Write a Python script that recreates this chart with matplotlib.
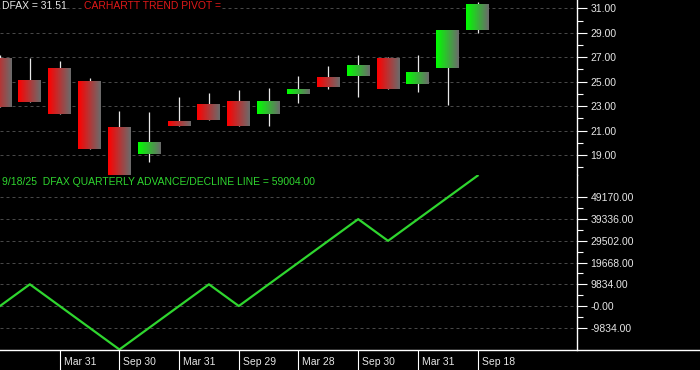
import matplotlib.pyplot as plt
import numpy as np
from matplotlib.lines import Line2D

# Candles trimestrais (abertura, máxima, mínima, fechamento)
abertura = [26.93, 25.13, 26.12, 25.05, 21.21, 19.11, 21.78, 23.11, 23.34,
            22.35, 23.99, 25.30, 25.46, 26.93, 24.81, 26.14, 29.22]
maxima = [27.18, 26.93, 26.69, 25.30, 22.62, 22.52, 23.74, 24.07, 24.31,
          24.48, 25.46, 26.28, 27.18, 27.02, 27.18, 29.20, 31.54]
minima = [22.95, 23.34, 22.38, 19.49, 17.20, 18.45, 21.40, 21.86, 21.37,
          21.37, 23.25, 24.40, 23.74, 24.40, 24.15, 23.09, 28.96]
fechamento = [22.95, 23.34, 22.38, 19.49, 17.20, 20.06, 21.40, 21.86, 21.37,
              23.34, 24.32, 24.56, 26.28, 24.40, 25.79, 29.20, 31.27]
dfax_atual = 31.51

# Linha de avanço/declínio
linha_ad = [0, 9834, 0, -9834, -19668, -9834, 0, 9834, 0, 9834, 19668,
            29502, 39336, 29502, 39336, 49170, 59004]

datas_idx = [2, 4, 6, 8, 10, 12, 14, 16]
datas = ["Mar 31", "Sep 30", "Mar 31", "Sep 29", "Mar 28", "Sep 30", "Mar 31", "Sep 18"]

precos_ticks = [19, 21, 23, 25, 27, 29, 31]
precos_labels = ["19.00", "21.00", "23.00", "25.00", "27.00", "29.00", "31.00"]
ad_ticks = [-9834, 0, 9834, 19668, 29502, 39336, 49170]
ad_labels = ["-9834.00", "-0.00", "9834.00", "19668.00", "29502.00", "39336.00", "49170.00"]

plt.rcParams["font.family"] = ["Liberation Sans", "DejaVu Sans"]

GRADE = "#565656"
TRACO = (0, (3.6, 3.6))
FONTE = 7.5


def estilo_eixo(ax):
    ax.set_facecolor("black")
    for lado in ["top", "left", "bottom"]:
        ax.spines[lado].set_visible(False)
    ax.spines["right"].set_color("white")
    ax.spines["right"].set_linewidth(1.0)
    ax.yaxis.tick_right()
    ax.tick_params(axis="y", which="major", colors="white", labelcolor="#e6e6e6",
                   length=7.2, width=0.8, pad=2.5, labelsize=FONTE)
    ax.tick_params(axis="y", which="minor", colors="white", length=4.3, width=0.8)
    ax.grid(axis="y", which="major", color=GRADE, linestyle=TRACO, linewidth=0.6)
    ax.set_axisbelow(True)


def gradiente(cor, n=40):
    cinza = np.array([0.42, 0.42, 0.42])
    cor = np.array(cor)
    t = np.linspace(0, 1, n)[:, None]
    return (cor * (1 - t) + cinza * t)[None, :, :]


fig = plt.figure(figsize=(7, 3.7), dpi=100, facecolor="black")
ax1 = fig.add_axes([0, 195 / 370, 577 / 700, 175 / 370])
ax2 = fig.add_axes([0, 20 / 370, 577 / 700, 175 / 370])
estilo_eixo(ax1)
estilo_eixo(ax2)

# Candles com gradiente
largura = 0.77
for i in range(len(abertura)):
    ax1.vlines(i, minima[i], maxima[i], color="#e8e8e8", linewidth=0.9, zorder=2)
    alta = fechamento[i] >= abertura[i]
    cor = (0.0, 1.0, 0.0) if alta else (1.0, 0.0, 0.0)
    base, topo = sorted([abertura[i], fechamento[i]])
    ax1.imshow(gradiente(cor), extent=(i - largura / 2, i + largura / 2, base, topo),
               aspect="auto", interpolation="bilinear", zorder=3)

ax1.set_xlim(0, 19.33)
ax1.set_ylim(17.36, 31.68)
ax1.set_yticks(precos_ticks, labels=precos_labels)
ax1.set_yticks(np.arange(18, 31, 2), minor=True)
ax1.set_xticks([])
ax1.spines["bottom"].set_visible(True)
ax1.spines["bottom"].set_color(GRADE)
ax1.spines["bottom"].set_linestyle(TRACO)
ax1.spines["bottom"].set_linewidth(0.6)

ax1.text(0.003, 0.965, f"DFAX = {dfax_atual:.2f}", transform=ax1.transAxes,
         color="#e6e6e6", fontsize=FONTE, va="center", ha="left",
         bbox=dict(facecolor="black", edgecolor="none", pad=0.5))
ax1.text(0.145, 0.965, "CARHARTT TREND PIVOT =", transform=ax1.transAxes,
         color="#e01818", fontsize=FONTE, va="center", ha="left",
         bbox=dict(facecolor="black", edgecolor="none", pad=0.5))

# Linha A/D
ax2.plot(range(len(linha_ad)), linha_ad, color="#2fd62f", linewidth=1.6, zorder=3)
ax2.set_xlim(0, 19.33)
ax2.set_ylim(-19900, 59300)
ax2.set_yticks(ad_ticks, labels=ad_labels)
ax2.set_yticks(np.arange(-4917, 49170, 9834), minor=True)
ax2.text(0.003, 0.96, f"9/18/25  DFAX QUARTERLY ADVANCE/DECLINE LINE = {linha_ad[-1]:.2f}",
         transform=ax2.transAxes, color="#2fd62f", fontsize=FONTE, va="center", ha="left")

# Datas no eixo x
ax2.set_xticks(datas_idx, labels=[""] * len(datas_idx))
ax2.tick_params(axis="x", which="major", colors="white", direction="out",
                length=14.4, width=0.8)
for idx, rotulo in zip(datas_idx, datas):
    ax2.annotate(rotulo, xy=(idx, 0), xycoords=("data", "axes fraction"),
                 xytext=(4, -12), textcoords="offset pixels",
                 color="#e6e6e6", fontsize=FONTE, ha="left", va="center")

fig.add_artist(Line2D([0, 1], [20 / 370, 20 / 370], transform=fig.transFigure,
                      color="white", linewidth=1.0))

plt.savefig("out.png", dpi=100, facecolor="black")
